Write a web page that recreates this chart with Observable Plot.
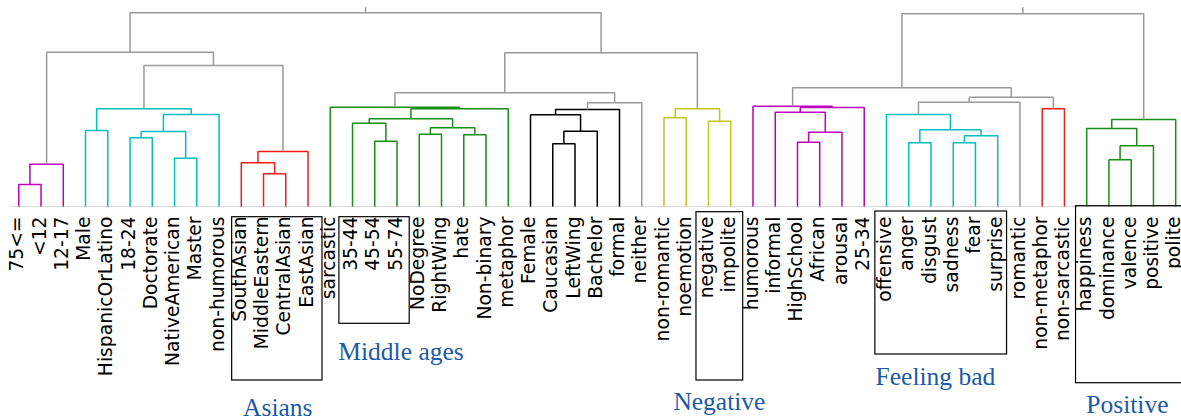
<!DOCTYPE html>
<html>
<head>
<meta charset="utf-8">
<script src="https://cdn.jsdelivr.net/npm/d3@7"></script>
<script src="https://cdn.jsdelivr.net/npm/@observablehq/plot@0.6"></script>
<style>
  html, body { margin: 0; padding: 0; background: #fff; }
  #chart svg { display: block; }
</style>
</head>
<body>
<div id="chart"></div>
<script>
// Leaf labels, left to right
const leaves = [
  "75<=", "<12", "12-17", "Male", "HispanicOrLatino", "18-24", "Doctorate",
  "NativeAmerican", "Master", "non-humorous", "SouthAsian", "MiddleEastern",
  "CentralAsian", "EastAsian", "sarcastic", "35-44", "45-54", "55-74",
  "NoDegree", "RightWing", "hate", "Non-binary", "metaphor", "Female",
  "Caucasian", "LeftWing", "Bachelor", "formal", "neither", "non-romantic",
  "noemotion", "negative", "impolite", "humorous", "informal", "HighSchool",
  "African", "arousal", "25-34", "offensive", "anger", "disgust", "sadness",
  "fear", "surprise", "romantic", "non-metaphor", "non-sarcastic",
  "happiness", "dominance", "valence", "positive", "polite"
];

// Cluster colours
const palette = {
  m: "#bf00bf", c: "#00bfbf", r: "#ff1a1a", g: "#159015",
  k: "#000000", y: "#c4c41a", gray: "#9a9a9a"
};

// Merges: [id, left child, right child, height, colour key]
const merges = [
  ["m1", "75<=", "<12", 22, "m"],
  ["m2", "m1", "12-17", 42.3, "m"],
  ["c1", "Male", "HispanicOrLatino", 76, "c"],
  ["c2", "18-24", "Doctorate", 68.7, "c"],
  ["c3", "NativeAmerican", "Master", 48.3, "c"],
  ["c4", "c2", "c3", 75, "c"],
  ["c5", "c4", "non-humorous", 92, "c"],
  ["c6", "c1", "c5", 97.7, "c"],
  ["r1", "MiddleEastern", "CentralAsian", 32.7, "r"],
  ["r2", "SouthAsian", "r1", 43.7, "r"],
  ["r3", "r2", "EastAsian", 55, "r"],
  ["g1", "c6", "r3", 141, "gray"],
  ["g2", "m2", "g1", 154.3, "gray"],
  ["gA", "45-54", "55-74", 65.3, "g"],
  ["gB", "35-44", "gA", 83.3, "g"],
  ["gC", "NoDegree", "RightWing", 72.3, "g"],
  ["gD", "hate", "Non-binary", 71.7, "g"],
  ["gE", "gC", "gD", 78.7, "g"],
  ["gF", "gB", "gE", 87.7, "g"],
  ["gG", "gF", "metaphor", 97.7, "g"],
  ["gH", "sarcastic", "gG", 99.3, "g"],
  ["k1", "Caucasian", "LeftWing", 62.7, "k"],
  ["k2", "k1", "Bachelor", 75.3, "k"],
  ["k3", "Female", "k2", 91.7, "k"],
  ["k4", "k3", "formal", 97, "k"],
  ["n1", "k4", "neither", 103.7, "gray"],
  ["n2", "gH", "n1", 113.7, "gray"],
  ["y1", "non-romantic", "noemotion", 88.7, "y"],
  ["y2", "negative", "impolite", 85.3, "y"],
  ["y3", "y1", "y2", 97.7, "y"],
  ["n3", "n2", "y3", 153.7, "gray"],
  ["L", "g2", "n3", 193.7, "gray"],
  ["p1", "HighSchool", "African", 64.3, "m"],
  ["p2", "p1", "arousal", 74.3, "m"],
  ["p3", "informal", "p2", 94.3, "m"],
  ["p4", "p3", "25-34", 99, "m"],
  ["p5", "humorous", "p4", 100.3, "m"],
  ["q1", "anger", "disgust", 63.7, "c"],
  ["q2", "sadness", "fear", 63.7, "c"],
  ["q3", "q2", "surprise", 70.7, "c"],
  ["q4", "q1", "q3", 76.7, "c"],
  ["q5", "offensive", "q4", 92, "c"],
  ["o1", "q5", "romantic", 104.3, "gray"],
  ["rr", "non-metaphor", "non-sarcastic", 97.7, "r"],
  ["o2", "o1", "rr", 109.3, "gray"],
  ["o3", "p5", "o2", 118.7, "gray"],
  ["v1", "dominance", "valence", 46.7, "g"],
  ["v2", "v1", "positive", 60.7, "g"],
  ["v3", "happiness", "v2", 78, "g"],
  ["v4", "v3", "polite", 87, "g"],
  ["R", "o3", "v4", 192.7, "gray"],
  ["root", "L", "R", 199.3, "gray"]
];

// Highlight boxes (x in leaf-index units, y in height units below the baseline)
const boxes = [
  {x1: 9.59, x2: 13.65, y1: -10.7, y2: -174},
  {x1: 14.41, x2: 17.57, y1: -10.7, y2: -117.3},
  {x1: 30.46, x2: 32.56, y1: -5.7, y2: -174},
  {x1: 38.5, x2: 44.42, y1: -5, y2: -148},
  {x1: 47.52, x2: 54.5, y1: 0.3, y2: -176.7}
];
const notes = [
  {text: "Asians", x: 11.64, y: -209},
  {text: "Middle ages", x: 17.18, y: -153.5},
  {text: "Negative", x: 31.49, y: -203.5},
  {text: "Feeling bad", x: 41.2, y: -178.5},
  {text: "Positive", x: 49.83, y: -206.5}
];

// Build link paths
const pos = new Map();
leaves.forEach((n, i) => pos.set(n, {x: i, h: 0}));
const pts = [];
for (const [id, a, b, h, col] of merges) {
  const A = pos.get(a), B = pos.get(b);
  const color = palette[col];
  pos.set(id, {x: (A.x + B.x) / 2, h});
  if (id === "root") {
    pts.push({z: id + "a", x: A.x, h: A.h, color}, {z: id + "a", x: A.x, h, color});
    pts.push({z: id + "b", x: B.x, h: B.h, color}, {z: id + "b", x: B.x, h, color});
  } else {
    pts.push(
      {z: id, x: A.x, h: A.h, color},
      {z: id, x: A.x, h, color},
      {z: id, x: B.x, h, color},
      {z: id, x: B.x, h: B.h, color}
    );
  }
}

const chart = Plot.plot({
  width: 1181,
  height: 418,
  margin: 0,
  x: {domain: [0, leaves.length - 1], range: [18.3, 1175.2], axis: null},
  y: {domain: [0, 206], range: [206, 0], axis: null},
  color: {type: "identity"},
  style: {background: "#fff", overflow: "visible"},
  marks: [
    Plot.ruleY([0], {x1: -0.38, x2: 54, stroke: "#dddddd", strokeWidth: 1}),
    Plot.line(pts, {x: "x", y: "h", z: "z", stroke: "color", strokeWidth: 1.5, strokeLinejoin: "miter", strokeLinecap: "butt"}),
    Plot.text(leaves, {
      x: (d, i) => i - 0.06, y: -10, text: d => d, rotate: -90,
      textAnchor: "end", lineAnchor: "middle",
      fontFamily: "DejaVu Sans", fontSize: 18.7, fill: "#000"
    }),
    Plot.rect(boxes, {x1: "x1", x2: "x2", y1: "y1", y2: "y2", fill: "none", stroke: "#000", strokeWidth: 1.2}),
    Plot.text(notes, {
      x: "x", y: "y", text: "text", lineAnchor: "bottom", textAnchor: "middle",
      fontFamily: "Liberation Serif", fontSize: 25.5, fill: "#1a5aa8"
    })
  ]
});
document.getElementById("chart").appendChild(chart);
</script>
</body>
</html>
